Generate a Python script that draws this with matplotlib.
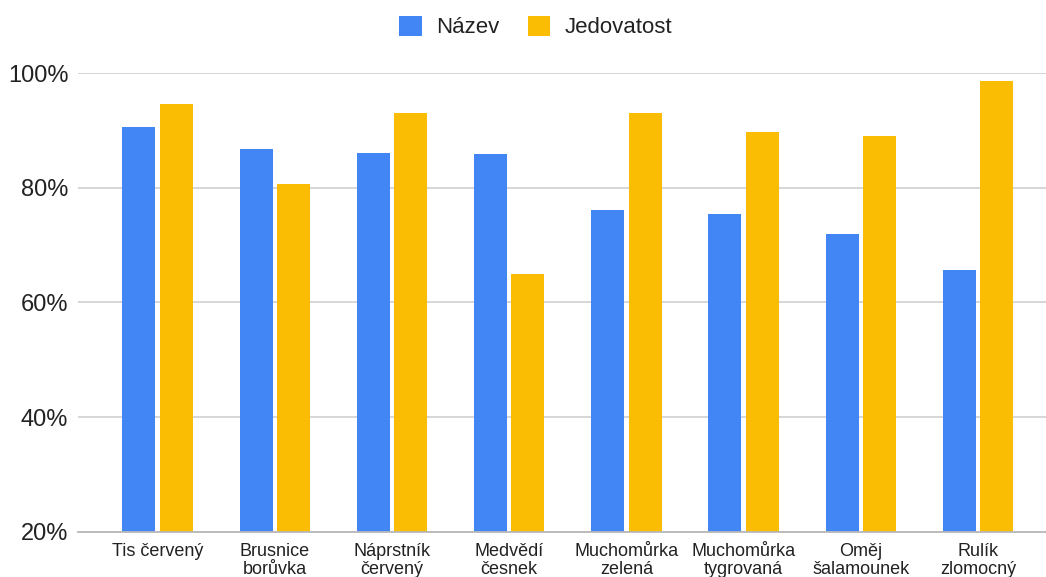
import matplotlib
matplotlib.use("Agg")
import matplotlib.pyplot as plt
import numpy as np
from matplotlib.patches import Patch

plt.rcParams['font.family'] = ['Liberation Sans', 'DejaVu Sans']

categories = [
    "Tis červený", "Brusnice\nborůvka", "Náprstník\nčervený", "Medvědí\nčesnek",
    "Muchomůrka\nzelená", "Muchomůrka\ntygrovaná", "Oměj\nšalamounek", "Rulík\nzlomocný",
]
nazev = [90.6, 86.8, 86.1, 85.9, 76.1, 75.4, 71.9, 65.7]
jedovatost = [94.6, 80.6, 93.0, 65.0, 93.0, 89.8, 89.1, 98.6]
y_ticks = [20, 40, 60, 80, 100]
series_names = ["Název", "Jedovatost"]

BLUE = "#4285F4"
YELLOW = "#FBBC04"
TEXT = "#222222"

fig = plt.figure(figsize=(10.46, 5.77), dpi=100)
ax = fig.add_axes([0.0746, 0.0785, 0.9254, 0.7945])

x = np.arange(len(categories))
bw = 0.282
off = 0.16
base = y_ticks[0]
ax.bar(x - off, np.array(nazev) - base, bw, bottom=base, color=BLUE, zorder=3)
ax.bar(x + off, np.array(jedovatost) - base, bw, bottom=base, color=YELLOW, zorder=3)

ax.set_xlim(-0.679, 7.58)
ax.set_ylim(20, 100)
ax.set_yticks(y_ticks)
ax.set_yticklabels([f"{v}%" for v in y_ticks])
ax.set_xticks(x)
ax.set_xticklabels(categories, linespacing=1.12)

ax.grid(axis='y', color="#d3d3d3", linewidth=1.3, zorder=0)
ax.set_axisbelow(True)
for s in ['top', 'right', 'left']:
    ax.spines[s].set_visible(False)
ax.spines['bottom'].set_color("#b8b8b8")
ax.spines['bottom'].set_linewidth(1.3)
ax.spines['bottom'].set_zorder(4)

ax.tick_params(axis='y', length=0, pad=7, labelsize=17, labelcolor=TEXT)
ax.tick_params(axis='x', length=0, pad=8, labelsize=13, labelcolor=TEXT)

handles = [Patch(facecolor=BLUE, edgecolor='none'), Patch(facecolor=YELLOW, edgecolor='none')]
fig.legend(handles, series_names, loc='center', bbox_to_anchor=(536 / 1046, 1 - 27 / 577),
           ncol=2, frameon=False, fontsize=16, handlelength=1.0, handleheight=1.0,
           handletextpad=0.65, columnspacing=1.3, labelcolor=TEXT)

fig.savefig("out.png", dpi=100)
